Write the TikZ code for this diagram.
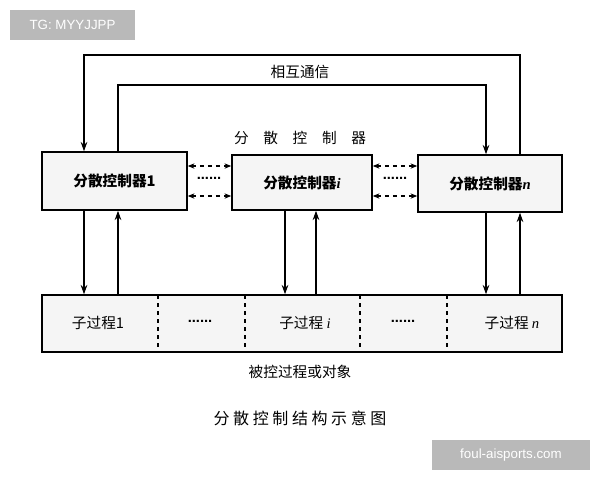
\documentclass[tikz,border=0pt]{standalone}
\usepackage{fontspec}
\newfontfamily\cjk{Noto Sans CJK SC}
\newfontfamily\lat{Liberation Serif}
\setmainfont{Liberation Sans}
\usetikzlibrary{arrows.meta}
\newcommand{\itv}[1]{{\lat\itshape #1}}
\begin{document}
\begin{tikzpicture}[x=0.75pt,y=-0.75pt,
  box/.style={draw,line width=1.2pt,fill=gray!8,font=\cjk\bfseries\fontsize{11}{13}\selectfont,inner sep=0},
  ln/.style={line width=0.8pt},
  arr/.style={ln,-{Stealth[length=7pt,width=5pt]}},
  wm/.style={fill=gray!55,text=white,font=\fontsize{10}{12}\selectfont,inner sep=0},
  dots/.style={font=\bfseries\fontsize{11}{13}\selectfont}]
\useasboundingbox (0,0) rectangle (600,480);
\fill[white] (0,0) rectangle (600,480);
\node[box,minimum width=145*0.75pt,minimum height=58*0.75pt] (c1) at (114.5,181) {分散控制器1};
\node[box,minimum width=140*0.75pt,minimum height=55*0.75pt] (ci) at (302,182.5) {分散控制器\itv{i}};
\node[box,minimum width=144*0.75pt,minimum height=57*0.75pt] (cn) at (490,183.5) {分散控制器\itv{n}};
\node[draw,line width=1.2pt,fill=gray!8,minimum width=520*0.75pt,minimum height=57*0.75pt] (p) at (302,323.5) {};
\foreach \x in {158,245,360,447} \draw[ln,dashed] (\x,295) -- (\x,352);
\begin{scope}[font=\cjk\fontsize{11}{13}\selectfont]
\node (s1) at (98,323) {子过程1};
\node[dots] (d1) at (200,321) {......};
\node (si) at (305,323) {子过程 \itv{i}};
\node[dots] (d2) at (403,321) {......};
\node (sn) at (512,323) {子过程 \itv{n}};
\node (t1) at (300,72) {相互通信};
\node (t2) at (300,138) {分\quad 散\quad 控\quad 制\quad 器};
\node (t3) at (300,372) {被控过程或对象};
\node (t4) at (300,418) {\fontsize{12}{14}\selectfont 分 散 控 制 结 构 示 意 图};
\end{scope}
\draw[arr,dashed,{Stealth[length=5pt,width=4pt]}-{Stealth[length=5pt,width=4pt]}] (c1.east|-0,166) -- (ci.west|-0,166);
\draw[arr,dashed,{Stealth[length=5pt,width=4pt]}-{Stealth[length=5pt,width=4pt]}] (c1.east|-0,196) -- (ci.west|-0,196);
\node[dots] at (209,178) {......};
\draw[arr,dashed,{Stealth[length=5pt,width=4pt]}-{Stealth[length=5pt,width=4pt]}] (ci.east|-0,166) -- (cn.west|-0,166);
\draw[arr,dashed,{Stealth[length=5pt,width=4pt]}-{Stealth[length=5pt,width=4pt]}] (ci.east|-0,196) -- (cn.west|-0,196);
\node[dots] at (395,178) {......};
\draw[arr] (cn.north-|520,0) -- (520,55) -- (84,55) -- (c1.north-|84,0);
\draw[arr] (c1.north-|118,0) -- (118,85) -- (486,85) -- (cn.north-|486,0);
\draw[arr] (c1.south-|84,0) -- (p.north-|84,0);
\draw[arr] (p.north-|118,0) -- (c1.south-|118,0);
\draw[arr] (ci.south-|285,0) -- (p.north-|285,0);
\draw[arr] (p.north-|316,0) -- (ci.south-|316,0);
\draw[arr] (cn.south-|486,0) -- (p.north-|486,0);
\draw[arr] (p.north-|520,0) -- (cn.south-|520,0);
\node[wm,minimum width=125*0.75pt,minimum height=30*0.75pt] (w1) at (72.5,25) {TG: MYYJJPP};
\node[wm,minimum width=158*0.75pt,minimum height=30*0.75pt] (w2) at (511,455) {foul-aisports.com};
\end{tikzpicture}
\end{document}
